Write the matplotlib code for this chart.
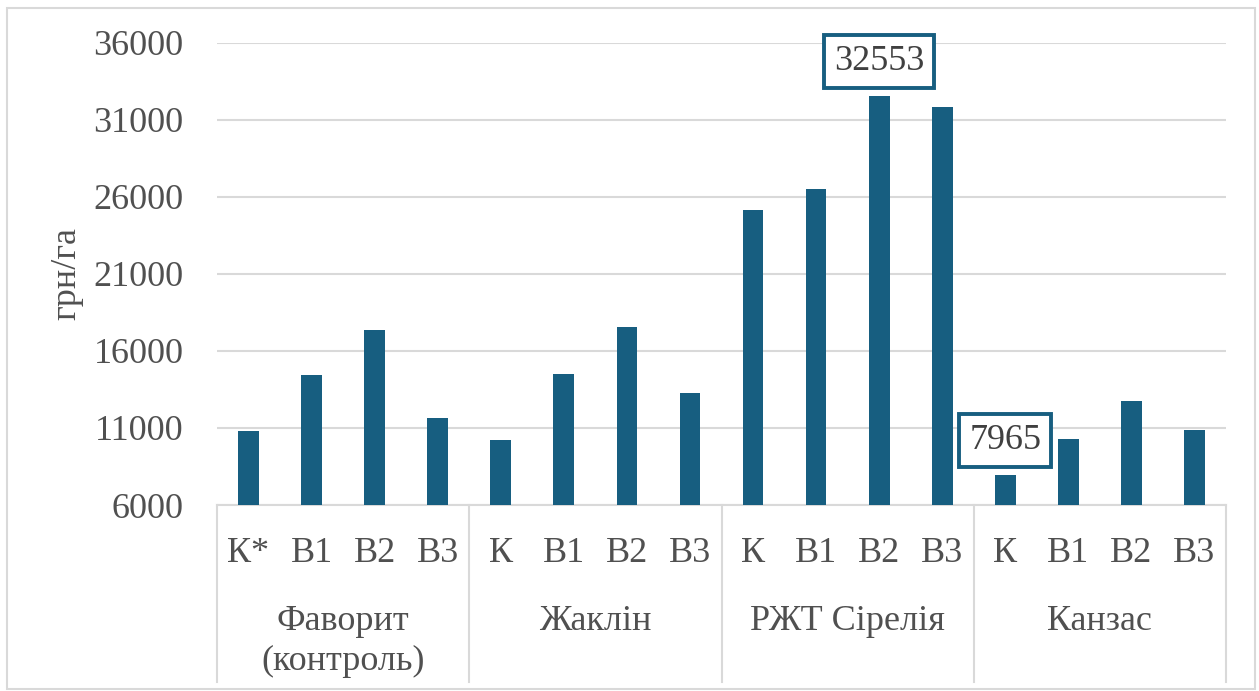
import matplotlib
matplotlib.use("Agg")
import matplotlib.pyplot as plt
from matplotlib.patches import Rectangle
from matplotlib.lines import Line2D

plt.rcParams['font.family'] = ['Liberation Serif', 'DejaVu Serif']

groups = ["Фаворит\n(контроль)", "Жаклін", "РЖТ Сірелія", "Канзас"]
sub_labels = ["К*", "В1", "В2", "В3",
              "К", "В1", "В2", "В3",
              "К", "В1", "В2", "В3",
              "К", "В1", "В2", "В3"]
values = [10790, 14460, 17350, 11630,
          10200, 14520, 17520, 13270,
          25170, 26490, 32553, 31800,
          7965, 10290, 12780, 10850]
labeled = {10: "32553", 12: "7965"}
y_label = "грн/га"
y_ticks = [6000, 11000, 16000, 21000, 26000, 31000, 36000]

W, H = 1259, 691
bar_color = "#175E80"
grid_color = "#D9D9D9"
text_color = "#505050"
fs = 26

fig = plt.figure(figsize=(W / 100, H / 100), dpi=100)
ax_left, ax_right, ax_top, ax_bot = 217, 1226, 42.7, 505
ax = fig.add_axes([ax_left / W, 1 - ax_bot / H, (ax_right - ax_left) / W, (ax_bot - ax_top) / H])

x = list(range(len(values)))
ax.bar(x, [v - 6000 for v in values], bottom=6000, width=0.33, color=bar_color, zorder=3)
ax.set_xlim(-0.5, len(values) - 0.5)
ax.set_ylim(6000, 36000)
ax.set_yticks(y_ticks)
ax.set_yticklabels([str(t) for t in y_ticks], fontsize=fs, color=text_color)
ax.tick_params(axis='y', length=0, pad=24)
ax.set_xticks([])
ax.grid(axis='y', color=grid_color, linewidth=1.5, zorder=0)
for s in ["top", "right", "left"]:
    ax.spines[s].set_visible(False)
ax.spines["bottom"].set_color(grid_color)
ax.spines["bottom"].set_linewidth(1.5)

ax.set_ylabel(y_label, fontsize=fs, color=text_color, labelpad=7)

axh = ax_bot - ax_top
def ay(py):
    return (ax_bot - py) / axh

tr = ax.get_xaxis_transform()
for i, lab in enumerate(sub_labels):
    ax.text(i, ay(553), lab, transform=tr, ha='center', va='center', fontsize=fs, color=text_color)
for g, name in enumerate(groups):
    for k, ln in enumerate(name.split("\n")):
        ax.text(g * 4 + 1.5, ay(621.7 + 40 * k), ln, transform=tr, ha='center', va='center',
                fontsize=fs, color=text_color)
for b in [-0.5, 3.5, 7.5, 11.5, 15.5]:
    ax.add_line(Line2D([b, b], [ay(ax_bot), ay(682)], transform=tr, color=grid_color,
                       linewidth=1.5, clip_on=False))

for i, txt in labeled.items():
    ax.annotate(txt, xy=(i, values[i]), xytext=(0, 24.5), textcoords='offset points',
                ha='center', va='center', fontsize=fs, color="#404040", zorder=5,
                bbox=dict(boxstyle='square,pad=0.28', fc='white', ec=bar_color, lw=2.8))

fig.patches.append(Rectangle((7 / W, 1 - 689 / H), (1255 - 7) / W, (689 - 8) / H,
                             transform=fig.transFigure, fill=False, ec=grid_color, lw=1.5))

fig.savefig("out.png", dpi=100)
